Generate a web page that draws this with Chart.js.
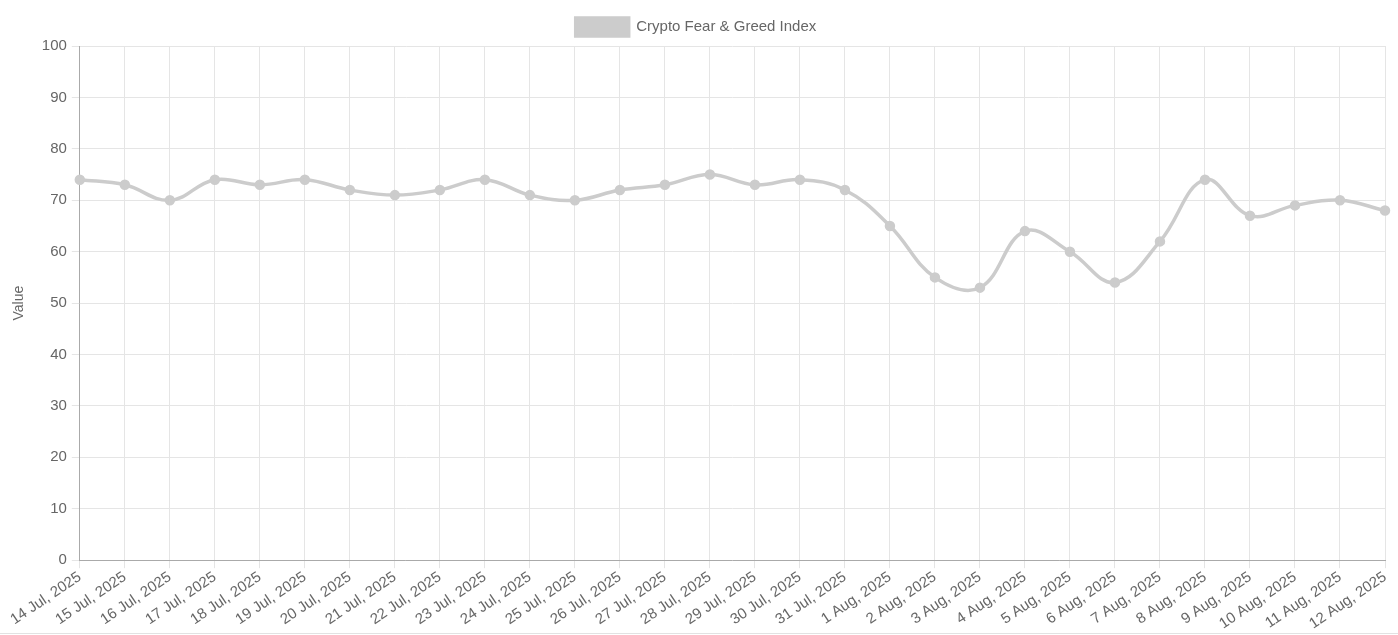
<!DOCTYPE html>
<html><head><meta charset="utf-8">
<script src="https://cdn.jsdelivr.net/npm/chart.js@4/dist/chart.umd.min.js"></script>
<style>html,body{margin:0;padding:0;background:#fff;}#wrap{width:1398px;height:633px;border-bottom:1px solid #e2e2e2;}</style>
</head><body><div id="wrap"><canvas id="c"></canvas></div>
<script>
const labels = ["14 Jul, 2025","15 Jul, 2025","16 Jul, 2025","17 Jul, 2025","18 Jul, 2025","19 Jul, 2025","20 Jul, 2025","21 Jul, 2025","22 Jul, 2025","23 Jul, 2025","24 Jul, 2025","25 Jul, 2025","26 Jul, 2025","27 Jul, 2025","28 Jul, 2025","29 Jul, 2025","30 Jul, 2025","31 Jul, 2025","1 Aug, 2025","2 Aug, 2025","3 Aug, 2025","4 Aug, 2025","5 Aug, 2025","6 Aug, 2025","7 Aug, 2025","8 Aug, 2025","9 Aug, 2025","10 Aug, 2025","11 Aug, 2025","12 Aug, 2025"];
const values = [74,73,70,74,73,74,72,71,72,74,71,70,72,73,75,73,74,72,65,55,53,64,60,54,62,74,67,69,70,68];
const seriesName = "Crypto Fear & Greed Index";

Chart.defaults.font.family = "'Liberation Sans', Arial, sans-serif";
Chart.defaults.font.size = 15;
Chart.defaults.color = "#666";

new Chart(document.getElementById('c'), {
  type: 'line',
  data: { labels: labels, datasets: [{
    label: seriesName, data: values,
    borderColor: 'rgb(204,204,204)', backgroundColor: 'rgb(204,204,204)',
    borderWidth: 3.5, tension: 0.4, pointRadius: 3.5, pointHoverRadius: 3.5, fill: false
  }]},
  options: {
    responsive: true, maintainAspectRatio: false, animation: false,
    layout: { padding: { right: 13, top: 8, left: 7, bottom: 0 } },
    plugins: { legend: { labels: { boxWidth: 53, boxHeight: 18, color: '#666' } }, tooltip: { enabled: false } },
    scales: {
      x: { grid: { color: '#e5e5e5' }, border: { color: '#aaa', width: 1 },
           ticks: { maxRotation: 34, minRotation: 34, autoSkip: false, color: '#666', padding: 0 } },
      y: { min: 0, max: 100, grid: { color: '#e5e5e5' }, border: { color: '#aaa' },
           ticks: { stepSize: 10, color: '#666', padding: 5 },
           title: { display: true, text: 'Value', color: '#666', font: { size: 14 }, padding: { top: 4, bottom: 9 } } }
    }
  }
});
</script></body></html>
